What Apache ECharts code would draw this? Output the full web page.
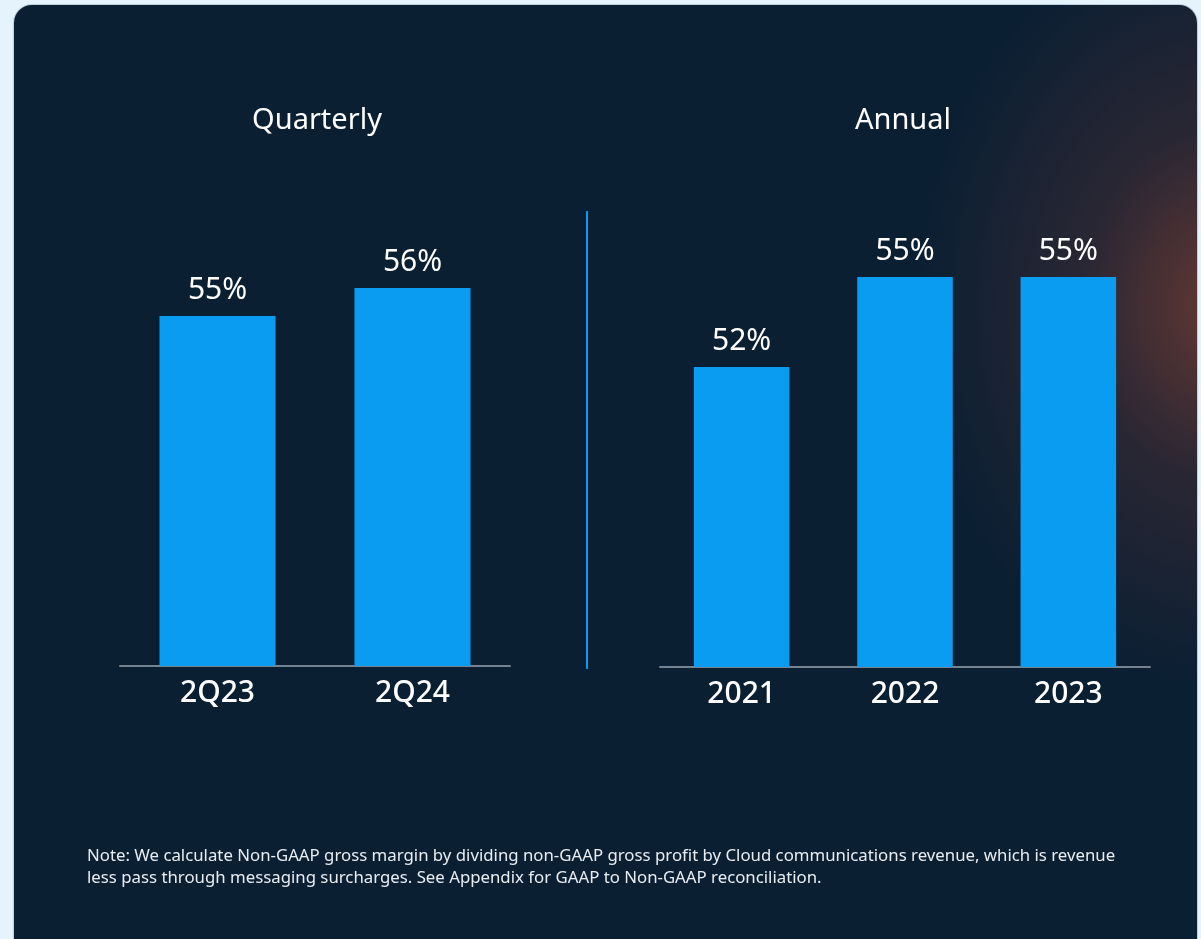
<!DOCTYPE html>
<html>
<head>
<meta charset="utf-8">
<script src="https://cdn.jsdelivr.net/npm/echarts@6/dist/echarts.min.js"></script>
<style>
  html, body { margin: 0; padding: 0; width: 1201px; height: 939px; background: #e4f3fc; overflow: hidden; }
  #panel { position: absolute; left: 14px; top: 5px; width: 1183px; height: 960px; border-radius: 18px;
    background: radial-gradient(ellipse 300px 380px at 1205px 300px, rgba(120,62,50,0.8) 0%, rgba(80,48,52,0.45) 45%, rgba(11,31,51,0) 100%), #0b1f33;
    box-shadow: 0 0 0 1px rgba(120,140,160,0.35); }
  #chart { position: absolute; left: 0; top: 0; width: 1201px; height: 939px; }
</style>
</head>
<body>
<div id="panel"></div>
<div id="chart"></div>
<script>
const quarterlyCategories = ['2Q23', '2Q24'];
const quarterlyValues = [55, 56];
const annualCategories = ['2021', '2022', '2023'];
const annualValues = [52, 55, 55];
const panelTitles = ['Quarterly', 'Annual'];
const noteText = 'Note: We calculate Non-GAAP gross margin by dividing non-GAAP gross profit by Cloud communications revenue, which is revenue\nless pass through messaging surcharges. See Appendix for GAAP to Non-GAAP reconciliation.';

const chart = echarts.init(document.getElementById('chart'), null, { renderer: 'canvas' });
const barColor = '#0a9cf0';
const labelStyle = { show: true, position: 'top', distance: 11, color: '#ffffff', fontSize: 30, fontFamily: 'Noto Sans', formatter: p => p.value + '%' };
const catLabel = { color: '#ffffff', fontSize: 30, fontWeight: 500, fontFamily: 'Noto Sans', margin: 12 };
const axisLine = { show: true, lineStyle: { color: '#75828f', width: 2 } };
const titleStyle = { color: '#ffffff', fontSize: 29, fontWeight: 'normal', fontFamily: 'Noto Sans' };

chart.setOption({
  backgroundColor: 'transparent',
  animation: false,
  title: [
    { text: panelTitles[0], left: 317, top: 106, padding: 0, textAlign: 'center', textStyle: titleStyle },
    { text: panelTitles[1], left: 903, top: 106, padding: 0, textAlign: 'center', textStyle: titleStyle },
    { text: noteText, left: 87, top: 845, padding: 0, textStyle: { color: '#e8edf2', fontSize: 16.8, fontWeight: 'normal', fontFamily: 'Noto Sans', lineHeight: 22 } }
  ],
  grid: [
    { left: 120, width: 390, top: 260, height: 406 },
    { left: 660, width: 490, top: 247, height: 420 }
  ],
  xAxis: [
    { type: 'category', gridIndex: 0, data: quarterlyCategories, axisLine: axisLine, axisTick: { show: false }, axisLabel: catLabel },
    { type: 'category', gridIndex: 1, data: annualCategories, axisLine: axisLine, axisTick: { show: false }, axisLabel: catLabel }
  ],
  yAxis: [
    { type: 'value', gridIndex: 0, min: 42.5, max: 57, show: false, splitLine: { show: false } },
    { type: 'value', gridIndex: 1, min: 42, max: 56, show: false, splitLine: { show: false } }
  ],
  series: [
    { type: 'bar', xAxisIndex: 0, yAxisIndex: 0, data: quarterlyValues, barWidth: '59.5%', itemStyle: { color: barColor }, label: labelStyle },
    { type: 'bar', xAxisIndex: 1, yAxisIndex: 1, data: annualValues, barWidth: '58.5%', itemStyle: { color: barColor }, label: labelStyle }
  ],
  graphic: [
    { type: 'line', shape: { x1: 587, y1: 211, x2: 587, y2: 669 }, style: { stroke: '#0a9cf0', lineWidth: 2 } }
  ]
});
</script>
</body>
</html>
